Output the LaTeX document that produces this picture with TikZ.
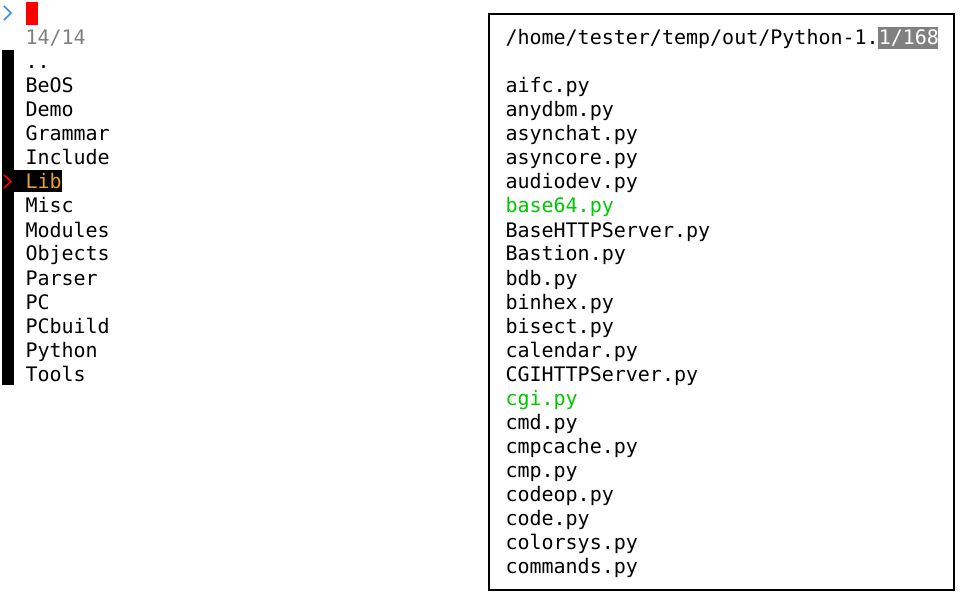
\documentclass[tikz,border=0pt]{standalone}
\usepackage{fontspec}
\newfontfamily\term{DejaVu Sans Mono}
\definecolor{promptblue}{HTML}{3A8EE6}
\definecolor{curred}{HTML}{FF0000}
\definecolor{dimgray}{HTML}{808080}
\definecolor{selorange}{HTML}{E5A323}
\definecolor{exegreen}{HTML}{00C800}
\tikzset{
  txt/.style={anchor=base west, inner sep=0pt, outer sep=0pt, font=\term\fontsize{20}{24}\selectfont, text=black},
  gtxt/.style={txt, text=exegreen},
  chev/.style={line width=1.5pt, line cap=butt, line join=miter},
}
\begin{document}
\begin{tikzpicture}[x=1pt,y=-1pt]
\useasboundingbox[fill=white] (0,0) rectangle (964,604);
% prompt line
\draw[chev, promptblue] (4,6) -- (11,13) -- (4,20);
\fill[curred] (26,2) rectangle (38,25);
\node[txt, text=dimgray] (count) at (25.5,45) {14/14};
% left gutter bar
\fill[black] (2,50) rectangle (14,385);
% selected row
\fill[black] (2,170) rectangle (62,192);
\draw[chev, curred] (4,175) -- (11,181.5) -- (4,188);
% list
\node[txt] (l2) at (25.5,69) {..};
\node[txt] (l3) at (25.5,93) {BeOS};
\node[txt] (l4) at (25.5,117) {Demo};
\node[txt] (l5) at (25.5,141) {Grammar};
\node[txt] (l6) at (25.5,165) {Include};
\node[txt, text=selorange] (l7) at (25.5,189) {Lib};
\node[txt] (l8) at (25.5,213) {Misc};
\node[txt] (l9) at (25.5,237) {Modules};
\node[txt] (l10) at (25.5,261) {Objects};
\node[txt] (l11) at (25.5,285) {Parser};
\node[txt] (l12) at (25.5,309) {PC};
\node[txt] (l13) at (25.5,333) {PCbuild};
\node[txt] (l14) at (25.5,357) {Python};
\node[txt] (l15) at (25.5,381) {Tools};
% preview box
\draw[line width=2pt] (488.5,14.5) rectangle (954,589.5);
\fill[dimgray] (878,27) rectangle (938,49);
\node[txt] (hdr) at (505.5,45) {/home/tester/temp/out/Python-1.};
\node[txt, text=white] (pos) at (hdr.base east) {1/168};
\node[txt] (r3) at (505.5,93) {aifc.py};
\node[txt] (r4) at (505.5,117) {anydbm.py};
\node[txt] (r5) at (505.5,141) {asynchat.py};
\node[txt] (r6) at (505.5,165) {asyncore.py};
\node[txt] (r7) at (505.5,189) {audiodev.py};
\node[gtxt] (r8) at (505.5,213) {base64.py};
\node[txt] (r9) at (505.5,237) {BaseHTTPServer.py};
\node[txt] (r10) at (505.5,261) {Bastion.py};
\node[txt] (r11) at (505.5,285) {bdb.py};
\node[txt] (r12) at (505.5,309) {binhex.py};
\node[txt] (r13) at (505.5,333) {bisect.py};
\node[txt] (r14) at (505.5,357) {calendar.py};
\node[txt] (r15) at (505.5,381) {CGIHTTPServer.py};
\node[gtxt] (r16) at (505.5,405) {cgi.py};
\node[txt] (r17) at (505.5,429) {cmd.py};
\node[txt] (r18) at (505.5,453) {cmpcache.py};
\node[txt] (r19) at (505.5,477) {cmp.py};
\node[txt] (r20) at (505.5,501) {codeop.py};
\node[txt] (r21) at (505.5,525) {code.py};
\node[txt] (r22) at (505.5,549) {colorsys.py};
\node[txt] (r23) at (505.5,573) {commands.py};
\end{tikzpicture}
\end{document}
